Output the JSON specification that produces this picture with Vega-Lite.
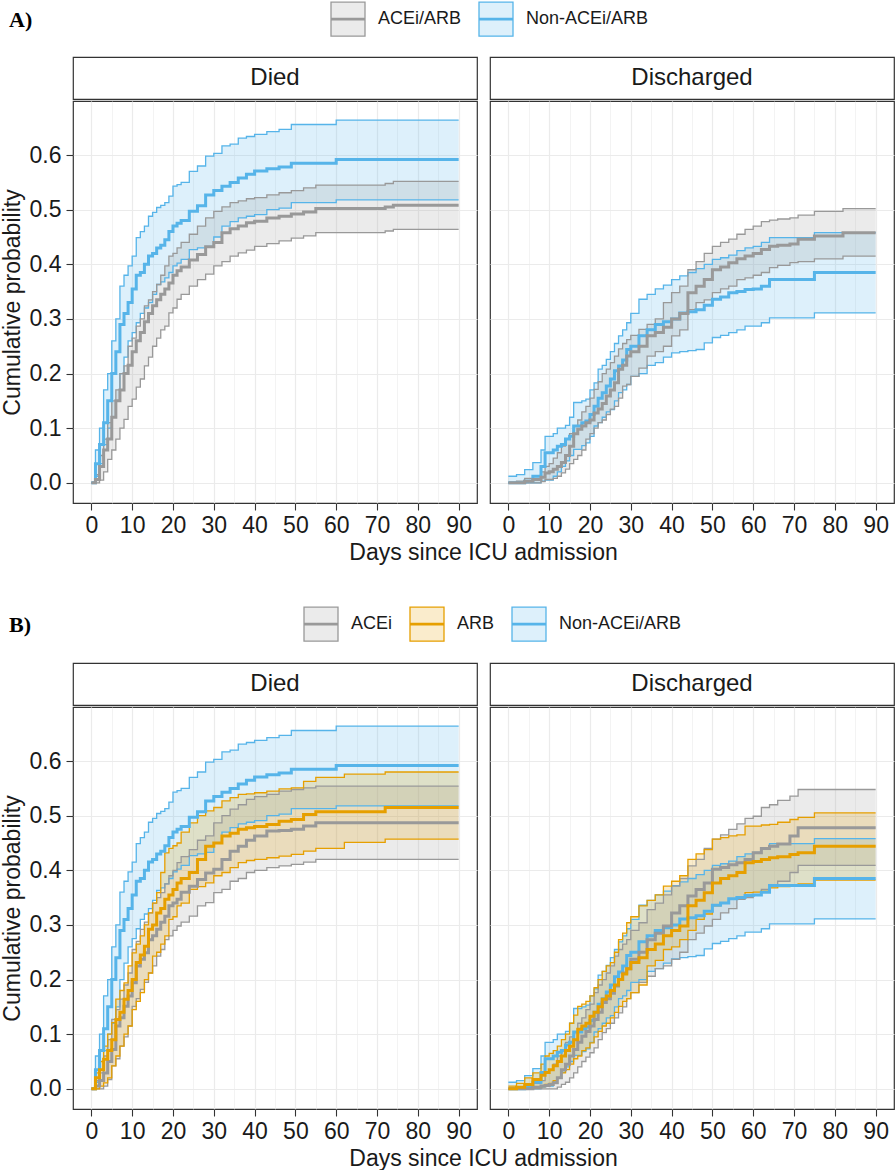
{
"$schema":"https://vega.github.io/schema/vega-lite/v6.json",
"padding":{"left":0,"top":1,"right":0,"bottom":0},
"background":"white",
"config":{
 "font":"Liberation Sans",
 "view":{"stroke":"#333333","strokeWidth":1.2},
 "axis":{"domain":false,"labelFont":"Liberation Sans","labelFontSize":23,"labelColor":"#1a1a1a","labelPadding":4,"labelOverlap":false,"labelFlush":false,"titleFont":"Liberation Sans","titleFontSize":23,"titleFontWeight":"normal","titleColor":"#1a1a1a","titlePadding":4,"tickColor":"#333333","tickSize":7,"tickWidth":1.1,"gridColor":"#ebebeb"},
 "legend":{"orient":"none","direction":"horizontal","titleOrient":"left","titleFont":"Liberation Serif","titleFontWeight":"bold","titleFontSize":22,"titleColor":"#000000","titleAnchor":"middle","titleBaseline":"middle","labelFont":"Liberation Sans","labelFontSize":18,"labelColor":"#1a1a1a","labelOffset":12,"columnPadding":14,"symbolType":"M-1,-1H1V1H-1Z M-1,-0.04H1V0.04H-1Z","symbolSize":1156,"symbolStrokeWidth":1.3,"padding":0}
},
"datasets":{"km":[
{"s":"AB","p":"Died","g":"Non-ACEi/ARB","t":0,"e":0,"l":0,"u":0},
{"s":"AB","p":"Died","g":"Non-ACEi/ARB","t":1,"e":0.035,"l":0.012,"u":0.06},
{"s":"AB","p":"Died","g":"Non-ACEi/ARB","t":2,"e":0.07,"l":0.035,"u":0.1},
{"s":"AB","p":"Died","g":"Non-ACEi/ARB","t":3,"e":0.11,"l":0.07,"u":0.17},
{"s":"AB","p":"Died","g":"Non-ACEi/ARB","t":4,"e":0.15,"l":0.1,"u":0.2},
{"s":"AB","p":"Died","g":"Non-ACEi/ARB","t":5,"e":0.2,"l":0.12,"u":0.26},
{"s":"AB","p":"Died","g":"Non-ACEi/ARB","t":6,"e":0.24,"l":0.15,"u":0.3},
{"s":"AB","p":"Died","g":"Non-ACEi/ARB","t":7,"e":0.29,"l":0.2,"u":0.36},
{"s":"AB","p":"Died","g":"Non-ACEi/ARB","t":8,"e":0.31,"l":0.23,"u":0.38},
{"s":"AB","p":"Died","g":"Non-ACEi/ARB","t":9,"e":0.33,"l":0.26,"u":0.397},
{"s":"AB","p":"Died","g":"Non-ACEi/ARB","t":10,"e":0.355,"l":0.275,"u":0.415},
{"s":"AB","p":"Died","g":"Non-ACEi/ARB","t":11,"e":0.38,"l":0.293,"u":0.449},
{"s":"AB","p":"Died","g":"Non-ACEi/ARB","t":12,"e":0.385,"l":0.31,"u":0.46},
{"s":"AB","p":"Died","g":"Non-ACEi/ARB","t":13,"e":0.4,"l":0.32,"u":0.47},
{"s":"AB","p":"Died","g":"Non-ACEi/ARB","t":14,"e":0.415,"l":0.33,"u":0.488},
{"s":"AB","p":"Died","g":"Non-ACEi/ARB","t":15,"e":0.42,"l":0.345,"u":0.495},
{"s":"AB","p":"Died","g":"Non-ACEi/ARB","t":16,"e":0.43,"l":0.363,"u":0.504},
{"s":"AB","p":"Died","g":"Non-ACEi/ARB","t":17,"e":0.435,"l":0.368,"u":0.508},
{"s":"AB","p":"Died","g":"Non-ACEi/ARB","t":18,"e":0.445,"l":0.375,"u":0.513},
{"s":"AB","p":"Died","g":"Non-ACEi/ARB","t":19,"e":0.46,"l":0.385,"u":0.525},
{"s":"AB","p":"Died","g":"Non-ACEi/ARB","t":20,"e":0.47,"l":0.397,"u":0.543},
{"s":"AB","p":"Died","g":"Non-ACEi/ARB","t":21,"e":0.475,"l":0.402,"u":0.546},
{"s":"AB","p":"Died","g":"Non-ACEi/ARB","t":22,"e":0.48,"l":0.409,"u":0.55},
{"s":"AB","p":"Died","g":"Non-ACEi/ARB","t":24,"e":0.497,"l":0.427,"u":0.57},
{"s":"AB","p":"Died","g":"Non-ACEi/ARB","t":26,"e":0.507,"l":0.43,"u":0.58},
{"s":"AB","p":"Died","g":"Non-ACEi/ARB","t":28,"e":0.527,"l":0.433,"u":0.598},
{"s":"AB","p":"Died","g":"Non-ACEi/ARB","t":30,"e":0.535,"l":0.45,"u":0.603},
{"s":"AB","p":"Died","g":"Non-ACEi/ARB","t":32,"e":0.543,"l":0.47,"u":0.617},
{"s":"AB","p":"Died","g":"Non-ACEi/ARB","t":34,"e":0.55,"l":0.478,"u":0.62},
{"s":"AB","p":"Died","g":"Non-ACEi/ARB","t":36,"e":0.558,"l":0.485,"u":0.631},
{"s":"AB","p":"Died","g":"Non-ACEi/ARB","t":38,"e":0.565,"l":0.488,"u":0.634},
{"s":"AB","p":"Died","g":"Non-ACEi/ARB","t":40,"e":0.571,"l":0.491,"u":0.638},
{"s":"AB","p":"Died","g":"Non-ACEi/ARB","t":43,"e":0.575,"l":0.5,"u":0.643},
{"s":"AB","p":"Died","g":"Non-ACEi/ARB","t":46,"e":0.578,"l":0.503,"u":0.647},
{"s":"AB","p":"Died","g":"Non-ACEi/ARB","t":49,"e":0.585,"l":0.513,"u":0.656},
{"s":"AB","p":"Died","g":"Non-ACEi/ARB","t":60,"e":0.592,"l":0.518,"u":0.664},
{"s":"AB","p":"Died","g":"Non-ACEi/ARB","t":90,"e":0.592,"l":0.518,"u":0.664},
{"s":"A","p":"Died","g":"ACEi/ARB","t":0,"e":0,"l":0,"u":0},
{"s":"A","p":"Died","g":"ACEi/ARB","t":1,"e":0.006,"l":0,"u":0.015},
{"s":"A","p":"Died","g":"ACEi/ARB","t":2,"e":0.03,"l":0.005,"u":0.05},
{"s":"A","p":"Died","g":"ACEi/ARB","t":3,"e":0.06,"l":0.02,"u":0.08},
{"s":"A","p":"Died","g":"ACEi/ARB","t":4,"e":0.08,"l":0.043,"u":0.11},
{"s":"A","p":"Died","g":"ACEi/ARB","t":5,"e":0.12,"l":0.06,"u":0.15},
{"s":"A","p":"Died","g":"ACEi/ARB","t":6,"e":0.15,"l":0.08,"u":0.17},
{"s":"A","p":"Died","g":"ACEi/ARB","t":7,"e":0.17,"l":0.1,"u":0.2},
{"s":"A","p":"Died","g":"ACEi/ARB","t":8,"e":0.2,"l":0.116,"u":0.214},
{"s":"A","p":"Died","g":"ACEi/ARB","t":9,"e":0.215,"l":0.14,"u":0.25},
{"s":"A","p":"Died","g":"ACEi/ARB","t":10,"e":0.24,"l":0.153,"u":0.265},
{"s":"A","p":"Died","g":"ACEi/ARB","t":11,"e":0.26,"l":0.175,"u":0.287},
{"s":"A","p":"Died","g":"ACEi/ARB","t":12,"e":0.275,"l":0.19,"u":0.3},
{"s":"A","p":"Died","g":"ACEi/ARB","t":13,"e":0.295,"l":0.214,"u":0.324},
{"s":"A","p":"Died","g":"ACEi/ARB","t":14,"e":0.31,"l":0.23,"u":0.335},
{"s":"A","p":"Died","g":"ACEi/ARB","t":15,"e":0.324,"l":0.25,"u":0.35},
{"s":"A","p":"Died","g":"ACEi/ARB","t":16,"e":0.335,"l":0.265,"u":0.363},
{"s":"A","p":"Died","g":"ACEi/ARB","t":17,"e":0.345,"l":0.28,"u":0.38},
{"s":"A","p":"Died","g":"ACEi/ARB","t":18,"e":0.355,"l":0.287,"u":0.397},
{"s":"A","p":"Died","g":"ACEi/ARB","t":19,"e":0.366,"l":0.311,"u":0.415},
{"s":"A","p":"Died","g":"ACEi/ARB","t":20,"e":0.38,"l":0.32,"u":0.42},
{"s":"A","p":"Died","g":"ACEi/ARB","t":21,"e":0.388,"l":0.336,"u":0.43},
{"s":"A","p":"Died","g":"ACEi/ARB","t":22,"e":0.395,"l":0.345,"u":0.44},
{"s":"A","p":"Died","g":"ACEi/ARB","t":24,"e":0.408,"l":0.36,"u":0.455},
{"s":"A","p":"Died","g":"ACEi/ARB","t":26,"e":0.418,"l":0.372,"u":0.47},
{"s":"A","p":"Died","g":"ACEi/ARB","t":28,"e":0.432,"l":0.382,"u":0.485},
{"s":"A","p":"Died","g":"ACEi/ARB","t":30,"e":0.44,"l":0.397,"u":0.497},
{"s":"A","p":"Died","g":"ACEi/ARB","t":32,"e":0.458,"l":0.405,"u":0.505},
{"s":"A","p":"Died","g":"ACEi/ARB","t":34,"e":0.465,"l":0.415,"u":0.513},
{"s":"A","p":"Died","g":"ACEi/ARB","t":36,"e":0.47,"l":0.421,"u":0.516},
{"s":"A","p":"Died","g":"ACEi/ARB","t":38,"e":0.476,"l":0.426,"u":0.52},
{"s":"A","p":"Died","g":"ACEi/ARB","t":40,"e":0.479,"l":0.433,"u":0.522},
{"s":"A","p":"Died","g":"ACEi/ARB","t":43,"e":0.485,"l":0.438,"u":0.527},
{"s":"A","p":"Died","g":"ACEi/ARB","t":46,"e":0.488,"l":0.443,"u":0.531},
{"s":"A","p":"Died","g":"ACEi/ARB","t":49,"e":0.492,"l":0.448,"u":0.535},
{"s":"A","p":"Died","g":"ACEi/ARB","t":52,"e":0.496,"l":0.452,"u":0.54},
{"s":"A","p":"Died","g":"ACEi/ARB","t":55,"e":0.502,"l":0.458,"u":0.545},
{"s":"A","p":"Died","g":"ACEi/ARB","t":72,"e":0.505,"l":0.461,"u":0.548},
{"s":"A","p":"Died","g":"ACEi/ARB","t":74,"e":0.508,"l":0.464,"u":0.552},
{"s":"A","p":"Died","g":"ACEi/ARB","t":90,"e":0.508,"l":0.464,"u":0.552},
{"s":"B","p":"Died","g":"ACEi","t":0,"e":0,"l":0,"u":0},
{"s":"B","p":"Died","g":"ACEi","t":1,"e":0.005,"l":0,"u":0.015},
{"s":"B","p":"Died","g":"ACEi","t":2,"e":0.015,"l":0,"u":0.029},
{"s":"B","p":"Died","g":"ACEi","t":3,"e":0.029,"l":0.005,"u":0.06},
{"s":"B","p":"Died","g":"ACEi","t":4,"e":0.05,"l":0.017,"u":0.09},
{"s":"B","p":"Died","g":"ACEi","t":5,"e":0.072,"l":0.042,"u":0.127},
{"s":"B","p":"Died","g":"ACEi","t":6,"e":0.115,"l":0.055,"u":0.145},
{"s":"B","p":"Died","g":"ACEi","t":7,"e":0.13,"l":0.078,"u":0.164},
{"s":"B","p":"Died","g":"ACEi","t":8,"e":0.151,"l":0.095,"u":0.19},
{"s":"B","p":"Died","g":"ACEi","t":9,"e":0.17,"l":0.115,"u":0.212},
{"s":"B","p":"Died","g":"ACEi","t":10,"e":0.194,"l":0.151,"u":0.255},
{"s":"B","p":"Died","g":"ACEi","t":11,"e":0.225,"l":0.165,"u":0.27},
{"s":"B","p":"Died","g":"ACEi","t":12,"e":0.237,"l":0.182,"u":0.292},
{"s":"B","p":"Died","g":"ACEi","t":13,"e":0.249,"l":0.195,"u":0.305},
{"s":"B","p":"Died","g":"ACEi","t":14,"e":0.273,"l":0.212,"u":0.322},
{"s":"B","p":"Died","g":"ACEi","t":15,"e":0.28,"l":0.225,"u":0.34},
{"s":"B","p":"Died","g":"ACEi","t":16,"e":0.292,"l":0.243,"u":0.35},
{"s":"B","p":"Died","g":"ACEi","t":17,"e":0.305,"l":0.255,"u":0.359},
{"s":"B","p":"Died","g":"ACEi","t":18,"e":0.316,"l":0.273,"u":0.375},
{"s":"B","p":"Died","g":"ACEi","t":19,"e":0.335,"l":0.28,"u":0.39},
{"s":"B","p":"Died","g":"ACEi","t":20,"e":0.34,"l":0.29,"u":0.4},
{"s":"B","p":"Died","g":"ACEi","t":21,"e":0.347,"l":0.298,"u":0.414},
{"s":"B","p":"Died","g":"ACEi","t":22,"e":0.36,"l":0.305,"u":0.425},
{"s":"B","p":"Died","g":"ACEi","t":24,"e":0.371,"l":0.316,"u":0.438},
{"s":"B","p":"Died","g":"ACEi","t":26,"e":0.383,"l":0.335,"u":0.455},
{"s":"B","p":"Died","g":"ACEi","t":28,"e":0.395,"l":0.341,"u":0.463},
{"s":"B","p":"Died","g":"ACEi","t":30,"e":0.402,"l":0.359,"u":0.487},
{"s":"B","p":"Died","g":"ACEi","t":32,"e":0.42,"l":0.365,"u":0.5},
{"s":"B","p":"Died","g":"ACEi","t":34,"e":0.435,"l":0.38,"u":0.512},
{"s":"B","p":"Died","g":"ACEi","t":36,"e":0.444,"l":0.385,"u":0.52},
{"s":"B","p":"Died","g":"ACEi","t":38,"e":0.455,"l":0.396,"u":0.53},
{"s":"B","p":"Died","g":"ACEi","t":40,"e":0.463,"l":0.4,"u":0.535},
{"s":"B","p":"Died","g":"ACEi","t":43,"e":0.472,"l":0.405,"u":0.539},
{"s":"B","p":"Died","g":"ACEi","t":46,"e":0.473,"l":0.408,"u":0.545},
{"s":"B","p":"Died","g":"ACEi","t":49,"e":0.475,"l":0.411,"u":0.548},
{"s":"B","p":"Died","g":"ACEi","t":52,"e":0.481,"l":0.415,"u":0.551},
{"s":"B","p":"Died","g":"ACEi","t":55,"e":0.487,"l":0.42,"u":0.554},
{"s":"B","p":"Died","g":"ACEi","t":90,"e":0.487,"l":0.42,"u":0.554},
{"s":"B","p":"Died","g":"ARB","t":0,"e":0,"l":0,"u":0},
{"s":"B","p":"Died","g":"ARB","t":1,"e":0.02,"l":0,"u":0.029},
{"s":"B","p":"Died","g":"ARB","t":2,"e":0.035,"l":0.005,"u":0.05},
{"s":"B","p":"Died","g":"ARB","t":3,"e":0.054,"l":0.011,"u":0.078},
{"s":"B","p":"Died","g":"ARB","t":4,"e":0.07,"l":0.02,"u":0.1},
{"s":"B","p":"Died","g":"ARB","t":5,"e":0.09,"l":0.042,"u":0.121},
{"s":"B","p":"Died","g":"ARB","t":6,"e":0.127,"l":0.06,"u":0.164},
{"s":"B","p":"Died","g":"ARB","t":7,"e":0.14,"l":0.078,"u":0.18},
{"s":"B","p":"Died","g":"ARB","t":8,"e":0.164,"l":0.1,"u":0.194},
{"s":"B","p":"Died","g":"ARB","t":9,"e":0.18,"l":0.115,"u":0.225},
{"s":"B","p":"Died","g":"ARB","t":10,"e":0.2,"l":0.145,"u":0.249},
{"s":"B","p":"Died","g":"ARB","t":11,"e":0.231,"l":0.16,"u":0.265},
{"s":"B","p":"Died","g":"ARB","t":12,"e":0.245,"l":0.176,"u":0.28},
{"s":"B","p":"Died","g":"ARB","t":13,"e":0.261,"l":0.2,"u":0.3},
{"s":"B","p":"Died","g":"ARB","t":14,"e":0.292,"l":0.212,"u":0.322},
{"s":"B","p":"Died","g":"ARB","t":15,"e":0.3,"l":0.243,"u":0.34},
{"s":"B","p":"Died","g":"ARB","t":16,"e":0.322,"l":0.25,"u":0.359},
{"s":"B","p":"Died","g":"ARB","t":17,"e":0.33,"l":0.265,"u":0.396},
{"s":"B","p":"Died","g":"ARB","t":18,"e":0.347,"l":0.28,"u":0.432},
{"s":"B","p":"Died","g":"ARB","t":19,"e":0.355,"l":0.31,"u":0.44},
{"s":"B","p":"Died","g":"ARB","t":20,"e":0.365,"l":0.315,"u":0.445},
{"s":"B","p":"Died","g":"ARB","t":21,"e":0.377,"l":0.335,"u":0.45},
{"s":"B","p":"Died","g":"ARB","t":22,"e":0.385,"l":0.34,"u":0.47},
{"s":"B","p":"Died","g":"ARB","t":24,"e":0.396,"l":0.365,"u":0.487},
{"s":"B","p":"Died","g":"ARB","t":26,"e":0.42,"l":0.37,"u":0.5},
{"s":"B","p":"Died","g":"ARB","t":28,"e":0.444,"l":0.377,"u":0.509},
{"s":"B","p":"Died","g":"ARB","t":30,"e":0.45,"l":0.39,"u":0.515},
{"s":"B","p":"Died","g":"ARB","t":32,"e":0.463,"l":0.396,"u":0.527},
{"s":"B","p":"Died","g":"ARB","t":34,"e":0.468,"l":0.405,"u":0.533},
{"s":"B","p":"Died","g":"ARB","t":36,"e":0.475,"l":0.414,"u":0.539},
{"s":"B","p":"Died","g":"ARB","t":38,"e":0.478,"l":0.418,"u":0.54},
{"s":"B","p":"Died","g":"ARB","t":40,"e":0.48,"l":0.42,"u":0.542},
{"s":"B","p":"Died","g":"ARB","t":43,"e":0.484,"l":0.423,"u":0.545},
{"s":"B","p":"Died","g":"ARB","t":46,"e":0.49,"l":0.426,"u":0.549},
{"s":"B","p":"Died","g":"ARB","t":49,"e":0.493,"l":0.429,"u":0.551},
{"s":"B","p":"Died","g":"ARB","t":52,"e":0.502,"l":0.435,"u":0.563},
{"s":"B","p":"Died","g":"ARB","t":55,"e":0.507,"l":0.44,"u":0.57},
{"s":"B","p":"Died","g":"ARB","t":62,"e":0.507,"l":0.451,"u":0.576},
{"s":"B","p":"Died","g":"ARB","t":72,"e":0.515,"l":0.457,"u":0.58},
{"s":"B","p":"Died","g":"ARB","t":90,"e":0.515,"l":0.457,"u":0.58},
{"s":"AB","p":"Discharged","g":"Non-ACEi/ARB","t":0,"e":0,"l":0,"u":0.012},
{"s":"AB","p":"Discharged","g":"Non-ACEi/ARB","t":2,"e":0,"l":0,"u":0.015},
{"s":"AB","p":"Discharged","g":"Non-ACEi/ARB","t":4,"e":0.003,"l":0,"u":0.024},
{"s":"AB","p":"Discharged","g":"Non-ACEi/ARB","t":6,"e":0.012,"l":0,"u":0.037},
{"s":"AB","p":"Discharged","g":"Non-ACEi/ARB","t":8,"e":0.03,"l":0.003,"u":0.06},
{"s":"AB","p":"Discharged","g":"Non-ACEi/ARB","t":9,"e":0.055,"l":0.005,"u":0.085},
{"s":"AB","p":"Discharged","g":"Non-ACEi/ARB","t":11,"e":0.06,"l":0.012,"u":0.09},
{"s":"AB","p":"Discharged","g":"Non-ACEi/ARB","t":12,"e":0.067,"l":0.02,"u":0.1},
{"s":"AB","p":"Discharged","g":"Non-ACEi/ARB","t":13,"e":0.07,"l":0.03,"u":0.1},
{"s":"AB","p":"Discharged","g":"Non-ACEi/ARB","t":14,"e":0.08,"l":0.04,"u":0.105},
{"s":"AB","p":"Discharged","g":"Non-ACEi/ARB","t":15,"e":0.085,"l":0.05,"u":0.12},
{"s":"AB","p":"Discharged","g":"Non-ACEi/ARB","t":16,"e":0.104,"l":0.061,"u":0.147},
{"s":"AB","p":"Discharged","g":"Non-ACEi/ARB","t":18,"e":0.11,"l":0.068,"u":0.15},
{"s":"AB","p":"Discharged","g":"Non-ACEi/ARB","t":19,"e":0.113,"l":0.073,"u":0.153},
{"s":"AB","p":"Discharged","g":"Non-ACEi/ARB","t":20,"e":0.125,"l":0.085,"u":0.17},
{"s":"AB","p":"Discharged","g":"Non-ACEi/ARB","t":21,"e":0.14,"l":0.104,"u":0.183},
{"s":"AB","p":"Discharged","g":"Non-ACEi/ARB","t":22,"e":0.155,"l":0.11,"u":0.208},
{"s":"AB","p":"Discharged","g":"Non-ACEi/ARB","t":23,"e":0.165,"l":0.12,"u":0.215},
{"s":"AB","p":"Discharged","g":"Non-ACEi/ARB","t":24,"e":0.177,"l":0.13,"u":0.226},
{"s":"AB","p":"Discharged","g":"Non-ACEi/ARB","t":25,"e":0.19,"l":0.134,"u":0.24},
{"s":"AB","p":"Discharged","g":"Non-ACEi/ARB","t":26,"e":0.205,"l":0.15,"u":0.255},
{"s":"AB","p":"Discharged","g":"Non-ACEi/ARB","t":27,"e":0.214,"l":0.165,"u":0.269},
{"s":"AB","p":"Discharged","g":"Non-ACEi/ARB","t":28,"e":0.225,"l":0.17,"u":0.28},
{"s":"AB","p":"Discharged","g":"Non-ACEi/ARB","t":29,"e":0.244,"l":0.18,"u":0.293},
{"s":"AB","p":"Discharged","g":"Non-ACEi/ARB","t":30,"e":0.25,"l":0.195,"u":0.31},
{"s":"AB","p":"Discharged","g":"Non-ACEi/ARB","t":32,"e":0.269,"l":0.2,"u":0.336},
{"s":"AB","p":"Discharged","g":"Non-ACEi/ARB","t":34,"e":0.28,"l":0.215,"u":0.345},
{"s":"AB","p":"Discharged","g":"Non-ACEi/ARB","t":36,"e":0.29,"l":0.22,"u":0.355},
{"s":"AB","p":"Discharged","g":"Non-ACEi/ARB","t":38,"e":0.295,"l":0.23,"u":0.362},
{"s":"AB","p":"Discharged","g":"Non-ACEi/ARB","t":40,"e":0.3,"l":0.238,"u":0.372},
{"s":"AB","p":"Discharged","g":"Non-ACEi/ARB","t":42,"e":0.311,"l":0.24,"u":0.379},
{"s":"AB","p":"Discharged","g":"Non-ACEi/ARB","t":44,"e":0.313,"l":0.242,"u":0.385},
{"s":"AB","p":"Discharged","g":"Non-ACEi/ARB","t":46,"e":0.317,"l":0.244,"u":0.392},
{"s":"AB","p":"Discharged","g":"Non-ACEi/ARB","t":48,"e":0.325,"l":0.256,"u":0.4},
{"s":"AB","p":"Discharged","g":"Non-ACEi/ARB","t":50,"e":0.336,"l":0.266,"u":0.409},
{"s":"AB","p":"Discharged","g":"Non-ACEi/ARB","t":52,"e":0.34,"l":0.27,"u":0.412},
{"s":"AB","p":"Discharged","g":"Non-ACEi/ARB","t":54,"e":0.348,"l":0.275,"u":0.417},
{"s":"AB","p":"Discharged","g":"Non-ACEi/ARB","t":56,"e":0.35,"l":0.28,"u":0.425},
{"s":"AB","p":"Discharged","g":"Non-ACEi/ARB","t":58,"e":0.354,"l":0.287,"u":0.43},
{"s":"AB","p":"Discharged","g":"Non-ACEi/ARB","t":60,"e":0.355,"l":0.287,"u":0.433},
{"s":"AB","p":"Discharged","g":"Non-ACEi/ARB","t":62,"e":0.36,"l":0.293,"u":0.44},
{"s":"AB","p":"Discharged","g":"Non-ACEi/ARB","t":64,"e":0.372,"l":0.302,"u":0.449},
{"s":"AB","p":"Discharged","g":"Non-ACEi/ARB","t":75,"e":0.385,"l":0.311,"u":0.458},
{"s":"AB","p":"Discharged","g":"Non-ACEi/ARB","t":90,"e":0.385,"l":0.311,"u":0.458},
{"s":"A","p":"Discharged","g":"ACEi/ARB","t":0,"e":0,"l":0,"u":0},
{"s":"A","p":"Discharged","g":"ACEi/ARB","t":2,"e":0,"l":0,"u":0.003},
{"s":"A","p":"Discharged","g":"ACEi/ARB","t":4,"e":0.003,"l":0,"u":0.008},
{"s":"A","p":"Discharged","g":"ACEi/ARB","t":6,"e":0.006,"l":0,"u":0.012},
{"s":"A","p":"Discharged","g":"ACEi/ARB","t":8,"e":0.01,"l":0.002,"u":0.02},
{"s":"A","p":"Discharged","g":"ACEi/ARB","t":9,"e":0.018,"l":0.006,"u":0.03},
{"s":"A","p":"Discharged","g":"ACEi/ARB","t":10,"e":0.02,"l":0.006,"u":0.035},
{"s":"A","p":"Discharged","g":"ACEi/ARB","t":11,"e":0.025,"l":0.008,"u":0.045},
{"s":"A","p":"Discharged","g":"ACEi/ARB","t":12,"e":0.03,"l":0.012,"u":0.055},
{"s":"A","p":"Discharged","g":"ACEi/ARB","t":13,"e":0.037,"l":0.018,"u":0.067},
{"s":"A","p":"Discharged","g":"ACEi/ARB","t":14,"e":0.05,"l":0.025,"u":0.08},
{"s":"A","p":"Discharged","g":"ACEi/ARB","t":15,"e":0.067,"l":0.035,"u":0.09},
{"s":"A","p":"Discharged","g":"ACEi/ARB","t":16,"e":0.09,"l":0.043,"u":0.104},
{"s":"A","p":"Discharged","g":"ACEi/ARB","t":17,"e":0.098,"l":0.05,"u":0.115},
{"s":"A","p":"Discharged","g":"ACEi/ARB","t":18,"e":0.104,"l":0.06,"u":0.13},
{"s":"A","p":"Discharged","g":"ACEi/ARB","t":19,"e":0.11,"l":0.08,"u":0.14},
{"s":"A","p":"Discharged","g":"ACEi/ARB","t":20,"e":0.115,"l":0.09,"u":0.155},
{"s":"A","p":"Discharged","g":"ACEi/ARB","t":21,"e":0.128,"l":0.1,"u":0.171},
{"s":"A","p":"Discharged","g":"ACEi/ARB","t":22,"e":0.135,"l":0.11,"u":0.185},
{"s":"A","p":"Discharged","g":"ACEi/ARB","t":23,"e":0.145,"l":0.115,"u":0.2},
{"s":"A","p":"Discharged","g":"ACEi/ARB","t":24,"e":0.159,"l":0.125,"u":0.208},
{"s":"A","p":"Discharged","g":"ACEi/ARB","t":25,"e":0.17,"l":0.135,"u":0.22},
{"s":"A","p":"Discharged","g":"ACEi/ARB","t":26,"e":0.183,"l":0.14,"u":0.232},
{"s":"A","p":"Discharged","g":"ACEi/ARB","t":27,"e":0.208,"l":0.155,"u":0.245},
{"s":"A","p":"Discharged","g":"ACEi/ARB","t":28,"e":0.215,"l":0.177,"u":0.255},
{"s":"A","p":"Discharged","g":"ACEi/ARB","t":29,"e":0.232,"l":0.18,"u":0.262},
{"s":"A","p":"Discharged","g":"ACEi/ARB","t":30,"e":0.24,"l":0.195,"u":0.27},
{"s":"A","p":"Discharged","g":"ACEi/ARB","t":32,"e":0.25,"l":0.21,"u":0.281},
{"s":"A","p":"Discharged","g":"ACEi/ARB","t":34,"e":0.269,"l":0.232,"u":0.29},
{"s":"A","p":"Discharged","g":"ACEi/ARB","t":36,"e":0.275,"l":0.24,"u":0.3},
{"s":"A","p":"Discharged","g":"ACEi/ARB","t":38,"e":0.285,"l":0.25,"u":0.33},
{"s":"A","p":"Discharged","g":"ACEi/ARB","t":40,"e":0.3,"l":0.269,"u":0.348},
{"s":"A","p":"Discharged","g":"ACEi/ARB","t":42,"e":0.31,"l":0.28,"u":0.36},
{"s":"A","p":"Discharged","g":"ACEi/ARB","t":44,"e":0.348,"l":0.317,"u":0.39},
{"s":"A","p":"Discharged","g":"ACEi/ARB","t":46,"e":0.36,"l":0.33,"u":0.405},
{"s":"A","p":"Discharged","g":"ACEi/ARB","t":48,"e":0.372,"l":0.335,"u":0.42},
{"s":"A","p":"Discharged","g":"ACEi/ARB","t":50,"e":0.39,"l":0.348,"u":0.433},
{"s":"A","p":"Discharged","g":"ACEi/ARB","t":52,"e":0.395,"l":0.355,"u":0.44},
{"s":"A","p":"Discharged","g":"ACEi/ARB","t":54,"e":0.403,"l":0.36,"u":0.446},
{"s":"A","p":"Discharged","g":"ACEi/ARB","t":56,"e":0.41,"l":0.372,"u":0.455},
{"s":"A","p":"Discharged","g":"ACEi/ARB","t":58,"e":0.415,"l":0.375,"u":0.464},
{"s":"A","p":"Discharged","g":"ACEi/ARB","t":60,"e":0.42,"l":0.38,"u":0.47},
{"s":"A","p":"Discharged","g":"ACEi/ARB","t":62,"e":0.427,"l":0.385,"u":0.478},
{"s":"A","p":"Discharged","g":"ACEi/ARB","t":64,"e":0.433,"l":0.394,"u":0.481},
{"s":"A","p":"Discharged","g":"ACEi/ARB","t":66,"e":0.435,"l":0.398,"u":0.483},
{"s":"A","p":"Discharged","g":"ACEi/ARB","t":69,"e":0.437,"l":0.403,"u":0.485},
{"s":"A","p":"Discharged","g":"ACEi/ARB","t":71,"e":0.446,"l":0.405,"u":0.49},
{"s":"A","p":"Discharged","g":"ACEi/ARB","t":75,"e":0.452,"l":0.41,"u":0.497},
{"s":"A","p":"Discharged","g":"ACEi/ARB","t":82,"e":0.458,"l":0.415,"u":0.502},
{"s":"A","p":"Discharged","g":"ACEi/ARB","t":90,"e":0.458,"l":0.415,"u":0.502},
{"s":"B","p":"Discharged","g":"ACEi","t":0,"e":0,"l":0,"u":0},
{"s":"B","p":"Discharged","g":"ACEi","t":4,"e":0,"l":0,"u":0.005},
{"s":"B","p":"Discharged","g":"ACEi","t":6,"e":0.003,"l":0,"u":0.01},
{"s":"B","p":"Discharged","g":"ACEi","t":8,"e":0.005,"l":0,"u":0.015},
{"s":"B","p":"Discharged","g":"ACEi","t":9,"e":0.006,"l":0,"u":0.029},
{"s":"B","p":"Discharged","g":"ACEi","t":10,"e":0.008,"l":0,"u":0.035},
{"s":"B","p":"Discharged","g":"ACEi","t":11,"e":0.011,"l":0,"u":0.045},
{"s":"B","p":"Discharged","g":"ACEi","t":12,"e":0.02,"l":0.003,"u":0.06},
{"s":"B","p":"Discharged","g":"ACEi","t":13,"e":0.035,"l":0.008,"u":0.07},
{"s":"B","p":"Discharged","g":"ACEi","t":14,"e":0.045,"l":0.012,"u":0.085},
{"s":"B","p":"Discharged","g":"ACEi","t":15,"e":0.06,"l":0.02,"u":0.095},
{"s":"B","p":"Discharged","g":"ACEi","t":16,"e":0.072,"l":0.029,"u":0.103},
{"s":"B","p":"Discharged","g":"ACEi","t":17,"e":0.085,"l":0.04,"u":0.12},
{"s":"B","p":"Discharged","g":"ACEi","t":18,"e":0.096,"l":0.05,"u":0.13},
{"s":"B","p":"Discharged","g":"ACEi","t":19,"e":0.105,"l":0.058,"u":0.145},
{"s":"B","p":"Discharged","g":"ACEi","t":20,"e":0.115,"l":0.066,"u":0.155},
{"s":"B","p":"Discharged","g":"ACEi","t":21,"e":0.127,"l":0.075,"u":0.176},
{"s":"B","p":"Discharged","g":"ACEi","t":22,"e":0.14,"l":0.09,"u":0.19},
{"s":"B","p":"Discharged","g":"ACEi","t":23,"e":0.158,"l":0.103,"u":0.2},
{"s":"B","p":"Discharged","g":"ACEi","t":24,"e":0.165,"l":0.11,"u":0.212},
{"s":"B","p":"Discharged","g":"ACEi","t":25,"e":0.175,"l":0.12,"u":0.225},
{"s":"B","p":"Discharged","g":"ACEi","t":26,"e":0.188,"l":0.13,"u":0.243},
{"s":"B","p":"Discharged","g":"ACEi","t":27,"e":0.2,"l":0.139,"u":0.255},
{"s":"B","p":"Discharged","g":"ACEi","t":28,"e":0.212,"l":0.15,"u":0.265},
{"s":"B","p":"Discharged","g":"ACEi","t":29,"e":0.22,"l":0.165,"u":0.273},
{"s":"B","p":"Discharged","g":"ACEi","t":30,"e":0.237,"l":0.176,"u":0.29},
{"s":"B","p":"Discharged","g":"ACEi","t":32,"e":0.25,"l":0.195,"u":0.304},
{"s":"B","p":"Discharged","g":"ACEi","t":34,"e":0.273,"l":0.206,"u":0.328},
{"s":"B","p":"Discharged","g":"ACEi","t":36,"e":0.285,"l":0.22,"u":0.34},
{"s":"B","p":"Discharged","g":"ACEi","t":38,"e":0.298,"l":0.225,"u":0.355},
{"s":"B","p":"Discharged","g":"ACEi","t":40,"e":0.322,"l":0.237,"u":0.371},
{"s":"B","p":"Discharged","g":"ACEi","t":42,"e":0.335,"l":0.25,"u":0.385},
{"s":"B","p":"Discharged","g":"ACEi","t":44,"e":0.353,"l":0.273,"u":0.408},
{"s":"B","p":"Discharged","g":"ACEi","t":46,"e":0.365,"l":0.285,"u":0.42},
{"s":"B","p":"Discharged","g":"ACEi","t":48,"e":0.377,"l":0.298,"u":0.44},
{"s":"B","p":"Discharged","g":"ACEi","t":50,"e":0.402,"l":0.31,"u":0.457},
{"s":"B","p":"Discharged","g":"ACEi","t":52,"e":0.405,"l":0.322,"u":0.465},
{"s":"B","p":"Discharged","g":"ACEi","t":54,"e":0.41,"l":0.33,"u":0.475},
{"s":"B","p":"Discharged","g":"ACEi","t":56,"e":0.414,"l":0.347,"u":0.485},
{"s":"B","p":"Discharged","g":"ACEi","t":58,"e":0.42,"l":0.35,"u":0.495},
{"s":"B","p":"Discharged","g":"ACEi","t":60,"e":0.432,"l":0.355,"u":0.499},
{"s":"B","p":"Discharged","g":"ACEi","t":62,"e":0.44,"l":0.365,"u":0.515},
{"s":"B","p":"Discharged","g":"ACEi","t":64,"e":0.444,"l":0.37,"u":0.52},
{"s":"B","p":"Discharged","g":"ACEi","t":66,"e":0.448,"l":0.38,"u":0.528},
{"s":"B","p":"Discharged","g":"ACEi","t":69,"e":0.463,"l":0.396,"u":0.536},
{"s":"B","p":"Discharged","g":"ACEi","t":71,"e":0.478,"l":0.409,"u":0.548},
{"s":"B","p":"Discharged","g":"ACEi","t":90,"e":0.478,"l":0.409,"u":0.548},
{"s":"B","p":"Discharged","g":"ARB","t":0,"e":0,"l":0,"u":0.005},
{"s":"B","p":"Discharged","g":"ARB","t":2,"e":0.003,"l":0,"u":0.01},
{"s":"B","p":"Discharged","g":"ARB","t":4,"e":0.008,"l":0,"u":0.02},
{"s":"B","p":"Discharged","g":"ARB","t":6,"e":0.017,"l":0.002,"u":0.029},
{"s":"B","p":"Discharged","g":"ARB","t":8,"e":0.025,"l":0.004,"u":0.045},
{"s":"B","p":"Discharged","g":"ARB","t":9,"e":0.03,"l":0.008,"u":0.06},
{"s":"B","p":"Discharged","g":"ARB","t":10,"e":0.035,"l":0.01,"u":0.065},
{"s":"B","p":"Discharged","g":"ARB","t":11,"e":0.042,"l":0.015,"u":0.07},
{"s":"B","p":"Discharged","g":"ARB","t":12,"e":0.05,"l":0.02,"u":0.078},
{"s":"B","p":"Discharged","g":"ARB","t":13,"e":0.06,"l":0.029,"u":0.09},
{"s":"B","p":"Discharged","g":"ARB","t":14,"e":0.07,"l":0.035,"u":0.1},
{"s":"B","p":"Discharged","g":"ARB","t":15,"e":0.078,"l":0.045,"u":0.12},
{"s":"B","p":"Discharged","g":"ARB","t":16,"e":0.09,"l":0.055,"u":0.135},
{"s":"B","p":"Discharged","g":"ARB","t":17,"e":0.109,"l":0.06,"u":0.151},
{"s":"B","p":"Discharged","g":"ARB","t":18,"e":0.115,"l":0.07,"u":0.155},
{"s":"B","p":"Discharged","g":"ARB","t":19,"e":0.12,"l":0.075,"u":0.16},
{"s":"B","p":"Discharged","g":"ARB","t":20,"e":0.133,"l":0.084,"u":0.17},
{"s":"B","p":"Discharged","g":"ARB","t":21,"e":0.14,"l":0.095,"u":0.185},
{"s":"B","p":"Discharged","g":"ARB","t":22,"e":0.15,"l":0.105,"u":0.2},
{"s":"B","p":"Discharged","g":"ARB","t":23,"e":0.164,"l":0.115,"u":0.215},
{"s":"B","p":"Discharged","g":"ARB","t":24,"e":0.17,"l":0.12,"u":0.225},
{"s":"B","p":"Discharged","g":"ARB","t":25,"e":0.18,"l":0.13,"u":0.231},
{"s":"B","p":"Discharged","g":"ARB","t":26,"e":0.19,"l":0.14,"u":0.25},
{"s":"B","p":"Discharged","g":"ARB","t":27,"e":0.2,"l":0.151,"u":0.273},
{"s":"B","p":"Discharged","g":"ARB","t":28,"e":0.21,"l":0.16,"u":0.285},
{"s":"B","p":"Discharged","g":"ARB","t":29,"e":0.22,"l":0.165,"u":0.304},
{"s":"B","p":"Discharged","g":"ARB","t":30,"e":0.231,"l":0.176,"u":0.315},
{"s":"B","p":"Discharged","g":"ARB","t":32,"e":0.24,"l":0.19,"u":0.335},
{"s":"B","p":"Discharged","g":"ARB","t":34,"e":0.255,"l":0.225,"u":0.345},
{"s":"B","p":"Discharged","g":"ARB","t":36,"e":0.265,"l":0.235,"u":0.355},
{"s":"B","p":"Discharged","g":"ARB","t":38,"e":0.28,"l":0.255,"u":0.371},
{"s":"B","p":"Discharged","g":"ARB","t":40,"e":0.29,"l":0.26,"u":0.38},
{"s":"B","p":"Discharged","g":"ARB","t":42,"e":0.298,"l":0.273,"u":0.39},
{"s":"B","p":"Discharged","g":"ARB","t":44,"e":0.335,"l":0.29,"u":0.42},
{"s":"B","p":"Discharged","g":"ARB","t":46,"e":0.345,"l":0.31,"u":0.43},
{"s":"B","p":"Discharged","g":"ARB","t":48,"e":0.359,"l":0.32,"u":0.438},
{"s":"B","p":"Discharged","g":"ARB","t":50,"e":0.377,"l":0.335,"u":0.457},
{"s":"B","p":"Discharged","g":"ARB","t":52,"e":0.385,"l":0.34,"u":0.46},
{"s":"B","p":"Discharged","g":"ARB","t":54,"e":0.39,"l":0.347,"u":0.463},
{"s":"B","p":"Discharged","g":"ARB","t":56,"e":0.396,"l":0.35,"u":0.465},
{"s":"B","p":"Discharged","g":"ARB","t":58,"e":0.414,"l":0.359,"u":0.481},
{"s":"B","p":"Discharged","g":"ARB","t":60,"e":0.416,"l":0.36,"u":0.481},
{"s":"B","p":"Discharged","g":"ARB","t":62,"e":0.42,"l":0.362,"u":0.483},
{"s":"B","p":"Discharged","g":"ARB","t":64,"e":0.423,"l":0.368,"u":0.484},
{"s":"B","p":"Discharged","g":"ARB","t":66,"e":0.425,"l":0.37,"u":0.488},
{"s":"B","p":"Discharged","g":"ARB","t":69,"e":0.429,"l":0.372,"u":0.493},
{"s":"B","p":"Discharged","g":"ARB","t":71,"e":0.432,"l":0.375,"u":0.497},
{"s":"B","p":"Discharged","g":"ARB","t":75,"e":0.444,"l":0.382,"u":0.505},
{"s":"B","p":"Discharged","g":"ARB","t":90,"e":0.444,"l":0.382,"u":0.505}
]},
"spacing":41,
"resolve":{"scale":{"fill":"independent","stroke":"independent"},"legend":{"fill":"independent","stroke":"independent"}},
"vconcat":[
{"vconcat":[
 {"hconcat":[
  {"width":404,"height":42,"data":{"values":[{"p":"Died"}]},"mark":{"type":"text","fontSize":24,"font":"Liberation Sans","color":"#1a1a1a","baseline":"middle"},"encoding":{"text":{"field":"p","type":"nominal"}},"view":{"fill":"white","stroke":"#333333","strokeWidth":1.2}},
  {"width":404,"height":42,"data":{"values":[{"p":"Discharged"}]},"mark":{"type":"text","fontSize":24,"font":"Liberation Sans","color":"#1a1a1a","baseline":"middle"},"encoding":{"text":{"field":"p","type":"nominal"}},"view":{"fill":"white","stroke":"#333333","strokeWidth":1.2}}
 ],"spacing":13,"bounds":"flush"},
 {"hconcat":[
  {"width":404,"height":402,"data":{"name":"km"},"transform":[{"filter":"indexof(datum.s,'A')>=0 && datum.p==='Died'"}],
   "encoding":{"x":{"field":"t","type":"quantitative","scale":{"domain":[-4.5,94.5],"nice":false,"zero":false},"axis":{"values":[0,5,10,15,20,25,30,35,40,45,50,55,60,65,70,75,80,85,90],"labelExpr":"datum.value % 10 === 0 ? datum.label : ''","gridWidth":{"condition":{"test":"datum.value % 10 === 0","value":1.2},"value":0.6},"tickOpacity":{"condition":{"test":"datum.value % 10 === 0","value":1},"value":0},"title":"Days since ICU admission","titleX":410}}},
   "layer":[
    {"mark":{"type":"area","interpolate":"step-after","opacity":1},"encoding":{"y":{"field":"l","type":"quantitative","title":"Cumulative probability","scale":{"domain":[-0.037,0.699],"nice":false,"zero":false},"axis":{"values":[0,0.05,0.1,0.15,0.2,0.25,0.3,0.35,0.4,0.45,0.5,0.55,0.6,0.65],"labelExpr":"abs(datum.value*10-round(datum.value*10))<0.001 ? format(datum.value,'.1f') : ''","gridWidth":{"condition":{"test":"abs(datum.value*10-round(datum.value*10))<0.001","value":1.2},"value":0.6},"tickOpacity":{"condition":{"test":"abs(datum.value*10-round(datum.value*10))<0.001","value":1},"value":0},"labelPadding":5,"titlePadding":5}},"y2":{"field":"u"},"fill":{"field":"g","type":"nominal","scale":{"domain":["ACEi/ARB","Non-ACEi/ARB"],"range":["rgba(153,153,153,0.2)","rgba(86,180,233,0.2)"]},"legend":{"title":"A)","legendX":-64,"legendY":-56,"titlePadding":297}}}},
    {"mark":{"type":"line","interpolate":"step-after","strokeWidth":1.3},"encoding":{"y":{"field":"l","type":"quantitative","title":"Cumulative probability"},"stroke":{"field":"g","type":"nominal","scale":{"domain":["ACEi/ARB","Non-ACEi/ARB"],"range":["#999999","#56B4E9"]},"legend":{"title":"A)","legendX":-64,"legendY":-56,"titlePadding":297}}}},
    {"mark":{"type":"line","interpolate":"step-after","strokeWidth":1.3},"encoding":{"y":{"field":"u","type":"quantitative","title":"Cumulative probability"},"stroke":{"field":"g","type":"nominal"}}},
    {"mark":{"type":"line","interpolate":"step-after","strokeWidth":3},"encoding":{"y":{"field":"e","type":"quantitative","title":"Cumulative probability"},"stroke":{"field":"g","type":"nominal"}}}
   ]},
  {"width":404,"height":402,"data":{"name":"km"},"transform":[{"filter":"indexof(datum.s,'A')>=0 && datum.p==='Discharged'"}],
   "encoding":{"x":{"field":"t","type":"quantitative","scale":{"domain":[-4.5,94.5],"nice":false,"zero":false},"axis":{"values":[0,5,10,15,20,25,30,35,40,45,50,55,60,65,70,75,80,85,90],"labelExpr":"datum.value % 10 === 0 ? datum.label : ''","gridWidth":{"condition":{"test":"datum.value % 10 === 0","value":1.2},"value":0.6},"tickOpacity":{"condition":{"test":"datum.value % 10 === 0","value":1},"value":0},"title":null}}},
   "layer":[
    {"mark":{"type":"area","interpolate":"step-after","opacity":1},"encoding":{"y":{"field":"l","type":"quantitative","scale":{"domain":[-0.037,0.699],"nice":false,"zero":false},"axis":{"values":[0,0.05,0.1,0.15,0.2,0.25,0.3,0.35,0.4,0.45,0.5,0.55,0.6,0.65],"labels":false,"ticks":false,"title":null,"gridWidth":{"condition":{"test":"abs(datum.value*10-round(datum.value*10))<0.001","value":1.2},"value":0.6}}},"y2":{"field":"u"},"fill":{"field":"g","type":"nominal"}}},
    {"mark":{"type":"line","interpolate":"step-after","strokeWidth":1.3},"encoding":{"y":{"field":"l","type":"quantitative"},"stroke":{"field":"g","type":"nominal"}}},
    {"mark":{"type":"line","interpolate":"step-after","strokeWidth":1.3},"encoding":{"y":{"field":"u","type":"quantitative"},"stroke":{"field":"g","type":"nominal"}}},
    {"mark":{"type":"line","interpolate":"step-after","strokeWidth":3},"encoding":{"y":{"field":"e","type":"quantitative"},"stroke":{"field":"g","type":"nominal"}}}
   ]}
 ],"spacing":13,"bounds":"flush"}
],"spacing":0,"resolve":{"scale":{"fill":"shared","stroke":"shared"}}},
{"vconcat":[
 {"hconcat":[
  {"width":404,"height":42,"data":{"values":[{"p":"Died"}]},"mark":{"type":"text","fontSize":24,"font":"Liberation Sans","color":"#1a1a1a","baseline":"middle"},"encoding":{"text":{"field":"p","type":"nominal"}},"view":{"fill":"white","stroke":"#333333","strokeWidth":1.2}},
  {"width":404,"height":42,"data":{"values":[{"p":"Discharged"}]},"mark":{"type":"text","fontSize":24,"font":"Liberation Sans","color":"#1a1a1a","baseline":"middle"},"encoding":{"text":{"field":"p","type":"nominal"}},"view":{"fill":"white","stroke":"#333333","strokeWidth":1.2}}
 ],"spacing":13,"bounds":"flush"},
 {"hconcat":[
  {"width":404,"height":402,"data":{"name":"km"},"transform":[{"filter":"indexof(datum.s,'B')>=0 && datum.p==='Died'"}],
   "encoding":{"x":{"field":"t","type":"quantitative","scale":{"domain":[-4.5,94.5],"nice":false,"zero":false},"axis":{"values":[0,5,10,15,20,25,30,35,40,45,50,55,60,65,70,75,80,85,90],"labelExpr":"datum.value % 10 === 0 ? datum.label : ''","gridWidth":{"condition":{"test":"datum.value % 10 === 0","value":1.2},"value":0.6},"tickOpacity":{"condition":{"test":"datum.value % 10 === 0","value":1},"value":0},"title":"Days since ICU admission","titleX":410}}},
   "layer":[
    {"mark":{"type":"area","interpolate":"step-after","opacity":1},"encoding":{"y":{"field":"l","type":"quantitative","title":"Cumulative probability","scale":{"domain":[-0.037,0.699],"nice":false,"zero":false},"axis":{"values":[0,0.05,0.1,0.15,0.2,0.25,0.3,0.35,0.4,0.45,0.5,0.55,0.6,0.65],"labelExpr":"abs(datum.value*10-round(datum.value*10))<0.001 ? format(datum.value,'.1f') : ''","gridWidth":{"condition":{"test":"abs(datum.value*10-round(datum.value*10))<0.001","value":1.2},"value":0.6},"tickOpacity":{"condition":{"test":"abs(datum.value*10-round(datum.value*10))<0.001","value":1},"value":0},"labelPadding":5,"titlePadding":5}},"y2":{"field":"u"},"fill":{"field":"g","type":"nominal","scale":{"domain":["ACEi","ARB","Non-ACEi/ARB"],"range":["rgba(153,153,153,0.2)","rgba(230,159,0,0.2)","rgba(86,180,233,0.2)"]},"legend":{"title":"B)","legendX":-64,"legendY":-57,"titlePadding":272}}}},
    {"mark":{"type":"line","interpolate":"step-after","strokeWidth":1.3},"encoding":{"y":{"field":"l","type":"quantitative","title":"Cumulative probability"},"stroke":{"field":"g","type":"nominal","scale":{"domain":["ACEi","ARB","Non-ACEi/ARB"],"range":["#999999","#E69F00","#56B4E9"]},"legend":{"title":"B)","legendX":-64,"legendY":-57,"titlePadding":272}}}},
    {"mark":{"type":"line","interpolate":"step-after","strokeWidth":1.3},"encoding":{"y":{"field":"u","type":"quantitative","title":"Cumulative probability"},"stroke":{"field":"g","type":"nominal"}}},
    {"mark":{"type":"line","interpolate":"step-after","strokeWidth":3},"encoding":{"y":{"field":"e","type":"quantitative","title":"Cumulative probability"},"stroke":{"field":"g","type":"nominal"}}}
   ]},
  {"width":404,"height":402,"data":{"name":"km"},"transform":[{"filter":"indexof(datum.s,'B')>=0 && datum.p==='Discharged'"}],
   "encoding":{"x":{"field":"t","type":"quantitative","scale":{"domain":[-4.5,94.5],"nice":false,"zero":false},"axis":{"values":[0,5,10,15,20,25,30,35,40,45,50,55,60,65,70,75,80,85,90],"labelExpr":"datum.value % 10 === 0 ? datum.label : ''","gridWidth":{"condition":{"test":"datum.value % 10 === 0","value":1.2},"value":0.6},"tickOpacity":{"condition":{"test":"datum.value % 10 === 0","value":1},"value":0},"title":null}}},
   "layer":[
    {"mark":{"type":"area","interpolate":"step-after","opacity":1},"encoding":{"y":{"field":"l","type":"quantitative","scale":{"domain":[-0.037,0.699],"nice":false,"zero":false},"axis":{"values":[0,0.05,0.1,0.15,0.2,0.25,0.3,0.35,0.4,0.45,0.5,0.55,0.6,0.65],"labels":false,"ticks":false,"title":null,"gridWidth":{"condition":{"test":"abs(datum.value*10-round(datum.value*10))<0.001","value":1.2},"value":0.6}}},"y2":{"field":"u"},"fill":{"field":"g","type":"nominal"}}},
    {"mark":{"type":"line","interpolate":"step-after","strokeWidth":1.3},"encoding":{"y":{"field":"l","type":"quantitative"},"stroke":{"field":"g","type":"nominal"}}},
    {"mark":{"type":"line","interpolate":"step-after","strokeWidth":1.3},"encoding":{"y":{"field":"u","type":"quantitative"},"stroke":{"field":"g","type":"nominal"}}},
    {"mark":{"type":"line","interpolate":"step-after","strokeWidth":3},"encoding":{"y":{"field":"e","type":"quantitative"},"stroke":{"field":"g","type":"nominal"}}}
   ]}
 ],"spacing":13,"bounds":"flush"}
],"spacing":0,"resolve":{"scale":{"fill":"shared","stroke":"shared"}}}
]
}
